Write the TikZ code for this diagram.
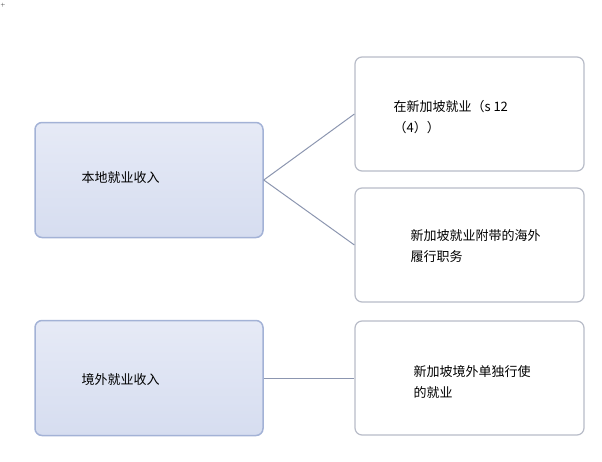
\documentclass[tikz,border=0pt]{standalone}
\usepackage{fontspec}
\newfontfamily\cjk{Noto Sans CJK SC}
\definecolor{lborder}{HTML}{A3B2D6}
\definecolor{lfillt}{HTML}{E6EAF6}
\definecolor{lfillb}{HTML}{D6DDF0}
\definecolor{rborder}{HTML}{B8BCC8}
\definecolor{lineclr}{HTML}{8C96B0}
\begin{document}
\begin{tikzpicture}[x=1pt,y=-1pt,
  lbox/.style={draw=lborder, line width=1.5pt, rounded corners=7pt, top color=lfillt, bottom color=lfillb, minimum width=228pt, minimum height=115pt},
  rbox/.style={draw=rborder, line width=1.2pt, rounded corners=7pt, fill=white, minimum width=229pt, minimum height=114pt},
  txt/.style={anchor=west, font=\cjk\fontsize{13}{21}\selectfont, align=left},
  conn/.style={draw=lineclr, line width=1pt}]
\useasboundingbox (0,0) rectangle (602,461);
\node[font=\tiny] (mk) at (3,5) {+};
\node[lbox] (L1) at (149,180) {};
\node[lbox] (L2) at (149,378) {};
\node[rbox] (A) at (469.5,114) {};
\node[rbox] (B) at (469.5,245) {};
\node[rbox] (C) at (469.5,378) {};
\node[txt] (t1) at (78,178) {本地就业收入};
\node[txt] (t2) at (78,380) {境外就业收入};
\node[txt] (ta) at (390,117) {在新加坡就业（s 12\\（4））};
\node[txt] (tb) at (407,246) {新加坡就业附带的海外\\履行职务};
\node[txt] (tc) at (410,382) {新加坡境外单独行使\\的就业};
\draw[conn] (L1.east) -- (A.west);
\draw[conn] (L1.east) -- (B.west);
\draw[conn] (L2.east) -- (C.west);
\end{tikzpicture}
\end{document}
